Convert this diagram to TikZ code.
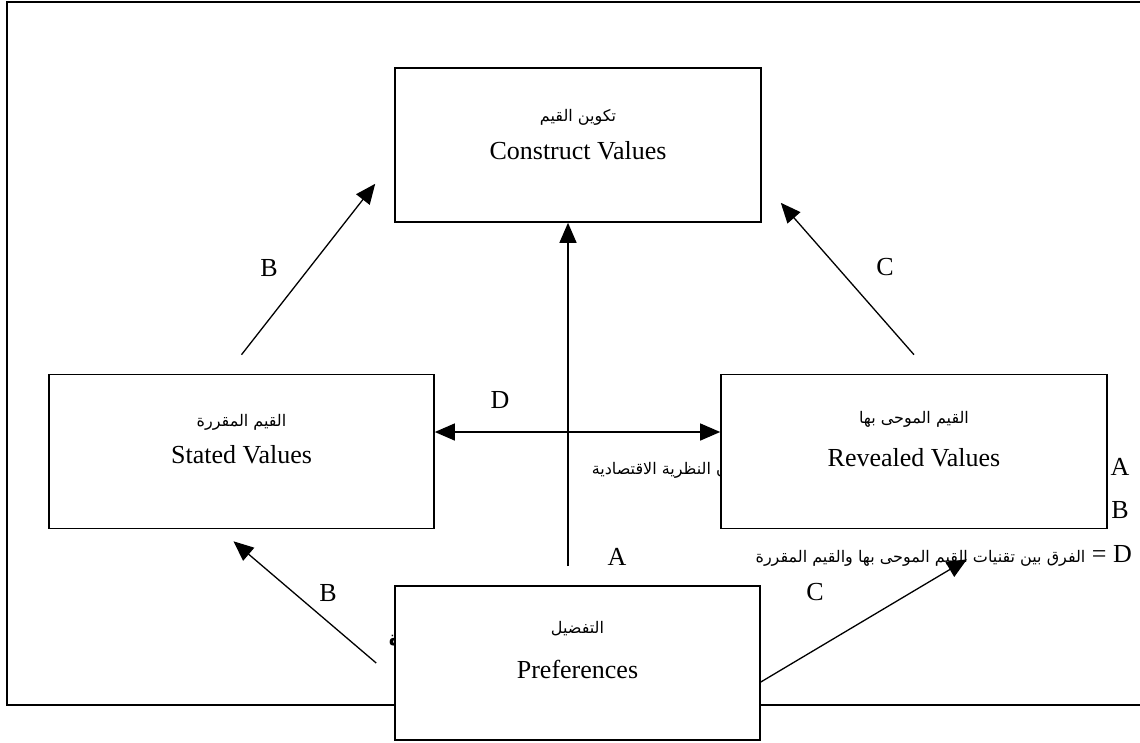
\documentclass[tikz,border=0pt]{standalone}
\usepackage{fontspec}
\setmainfont{Liberation Serif}
\newfontfamily\arabicfont[Script=Arabic]{DejaVu Sans}
\TeXXeTstate=1
\usetikzlibrary{positioning, arrows.meta}

\tikzstyle{valuebox} = [rectangle, 
line width=1.6pt, 
minimum width=366pt, 
minimum height=154pt, 
draw=black, fill=white]
\tikzstyle{entext} = [anchor=base, inner sep=0pt, font=\fontsize{26}{30}\selectfont]
\tikzstyle{artext} = [anchor=base, inner sep=0pt, font=\arabicfont\fontsize{16}{20}\selectfont]
\tikzstyle{letter} = [inner sep=0pt, font=\fontsize{26}{30}\selectfont]
\tikzstyle{arrow} = [line width=1.3pt, -{Triangle[length=20pt,width=17pt]}]
\tikzstyle{twoarrow} = [line width=1.3pt, {Triangle[length=20pt,width=17pt]}-{Triangle[length=20pt,width=17pt]}]

\begin{document}
\begin{tikzpicture}[x=1pt, y=1pt, node distance=306.5pt]
\useasboundingbox (0,0) rectangle (1140,-742);

% frame, runs off the right side
\draw [line width=1.8pt] (1140,-2) -- (7,-2) -- (7,-705) -- (1140,-705);

% bits of text that the boxes cover
\node (legAtext) [artext, anchor=base east] at (728,-474) {\beginR ن النظرية الاقتصادية\endR};
\node (stray) [artext, anchor=base east, font=\arabicfont\bfseries\fontsize{20}{22}\selectfont] at (401,-645) {ة};

\node (construct) [valuebox] at (578,-145) {};

\node (stated) [valuebox, below of=construct, xshift=-336.5pt, minimum width=385pt] {};

\node (revealed) [valuebox, below of=construct, xshift=336pt, minimum width=386pt] {};

\node (prefs) [valuebox, below of=construct, xshift=-0.5pt, yshift=-211.5pt, minimum width=365pt] {};

\node (constructar) [artext] at ([yshift=24pt]construct.center) {\beginR تكوين القيم\endR};
\node (constructen) [entext] at ([yshift=-14pt]construct.center) {Construct Values};

\node (statedar) [artext] at ([yshift=25pt]stated.center) {\beginR القيم المقررة\endR};
\node (stateden) [entext] at ([yshift=-12pt]stated.center) {Stated Values};

\node (revealedar) [artext] at ([yshift=28pt]revealed.center) {\beginR القيم الموحى بها\endR};
\node (revealeden) [entext] at ([yshift=-15pt]revealed.center) {Revealed Values};

\node (prefsar) [artext] at ([yshift=30pt]prefs.center) {\beginR التفضيل\endR};
\node (prefsen) [entext] at ([yshift=-15pt]prefs.center) {Preferences};

% legend on the right
\node (legA) [letter] at (1120,-467) {A};
\node (legB) [letter] at (1120,-510) {B};
\node (legD) [letter, anchor=east] at (1132,-556) {{\arabicfont\fontsize{16}{20}\selectfont\beginR الفرق بين تقنيات القيم الموحى بها والقيم المقررة\endR} = D};

\coordinate (atail) at ([xshift=-9.5pt,yshift=19pt]prefs.north);
\coordinate (btail) at ([yshift=19pt]stated.north);
\coordinate (bhead) at ([xshift=-19pt,yshift=39pt]construct.south west);
\coordinate (ctail) at ([yshift=19pt]revealed.north);
\coordinate (chead) at ([xshift=19pt,yshift=20pt]construct.south east);
\coordinate (lbtail) at ([xshift=-18pt]prefs.west);
\coordinate (lbhead) at ([xshift=-8pt,yshift=-12pt]stated.south);
\coordinate (lchead) at ([xshift=53pt,yshift=-30pt]revealed.south);

\draw [arrow] (atail) -- (atail |- construct.south);

\draw [arrow] (btail) -- (bhead);

\draw [arrow] (ctail) -- (chead);

\draw [twoarrow] ([yshift=19.5pt]stated.east) -- ([yshift=19.5pt]revealed.west);

\draw [arrow] (lbtail) -- (lbhead);

\draw [arrow] ([yshift=-19pt]prefs.east) -- (lchead);

\node (labA) [letter] at (617,-557) {A};
\node (labB) [letter] at (269,-268) {B};
\node (labC) [letter] at (885,-267) {C};
\node (labD) [letter] at (500,-400) {D};
\node (labBlow) [letter] at (328,-593) {B};
\node (labClow) [letter] at (815,-592) {C};

\end{tikzpicture}
\end{document}
